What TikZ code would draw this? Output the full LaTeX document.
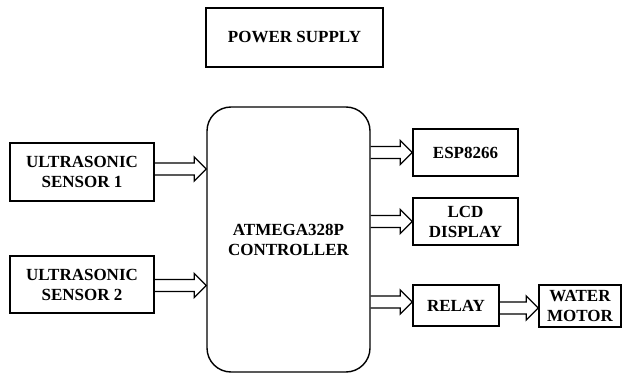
\documentclass[tikz,border=0pt]{standalone}
\usepackage{fontspec}
\setmainfont{Liberation Serif}
\usetikzlibrary{calc}
\tikzset{
  blk/.style={draw, line width=1.4pt, inner sep=0pt, align=center,
    font=\fontsize{17}{20}\selectfont\bfseries},
  ctrlbox/.style={blk, rounded corners=24pt},
  barrow/.style={draw, line width=1.3pt, line join=miter}
}
\newcommand\blockarrow[2]{%
  \draw[barrow] let \p1=(#1), \p2=(#2) in
    ({\x1},{\y1+6pt}) -- ({\x2-12pt},{\y1+6pt}) -- ({\x2-12pt},{\y1+12pt})
    -- ({\x2},{\y1}) -- ({\x2-12pt},{\y1-12pt}) -- ({\x2-12pt},{\y1-6pt})
    -- ({\x1},{\y1-6pt});}
\begin{document}
\begin{tikzpicture}[x=1pt,y=-1pt]
\useasboundingbox (0,0) rectangle (624,374);
\node[blk, minimum width=177pt, minimum height=59pt] (power) at (294.5,37.5) {POWER SUPPLY};
\node[ctrlbox, minimum width=163pt, minimum height=265pt] (ctrl) at (288.5,239.5) {ATMEGA328P\\CONTROLLER};
\node[blk, minimum width=144pt, minimum height=58pt] (s1) at (82,172) {ULTRASONIC\\SENSOR 1};
\node[blk, minimum width=144pt, minimum height=57pt] (s2) at (82,284.5) {ULTRASONIC\\SENSOR 2};
\node[blk, minimum width=105pt, minimum height=47pt] (esp) at (465.5,152.5) {ESP8266};
\node[blk, minimum width=105pt, minimum height=47pt] (lcd) at (465.5,221.5) {LCD\\DISPLAY};
\node[blk, minimum width=86pt, minimum height=41pt] (relay) at (456,305.5) {RELAY};
\node[blk, minimum width=82pt, minimum height=42pt] (motor) at (580,306) {WATER\\MOTOR};
\blockarrow{[yshift=3pt]s1.east}{ctrl.west}
\blockarrow{[yshift=-1pt]s2.east}{ctrl.west}
\blockarrow{ctrl.east |- esp.west}{esp.west}
\blockarrow{ctrl.east |- lcd.west}{lcd.west}
\blockarrow{[yshift=3.5pt]ctrl.east |- relay.west}{relay.west}
\blockarrow{[yshift=-2.5pt]relay.east}{motor.west}
\end{tikzpicture}
\end{document}
